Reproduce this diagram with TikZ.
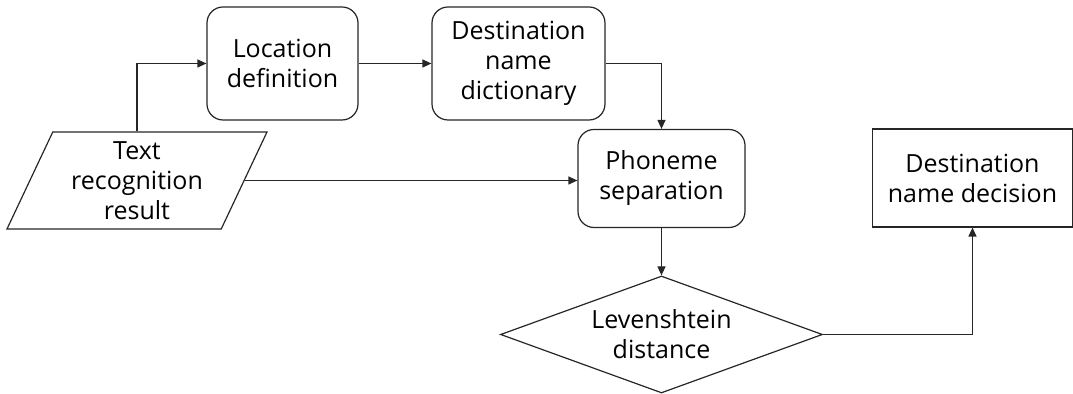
\documentclass[tikz,border=0pt]{standalone}
\usepackage{fontspec}
\setmainfont{Open Sans}
\usetikzlibrary{shapes.geometric,arrows.meta}
\tikzset{
	% common look of all blocks
	block/.style={draw=black!85,line width=0.6pt,align=center,
		font=\fontsize{12.5}{15}\selectfont,inner sep=2pt},
	roundbox/.style={block,rectangle,rounded corners=8pt},
	plainbox/.style={block,rectangle},
	iobox/.style={block,trapezium,trapezium left angle=62,
		trapezium right angle=118,trapezium stretches body},
	decide/.style={block,diamond,aspect=2.75},
	% arrows between the blocks
	arr/.style={draw=black!85,line width=0.6pt,
		-{Triangle[length=4.5pt,width=4pt]}},
}
\begin{document}
\begin{tikzpicture}[x=0.5pt,y=-0.5pt]
		\useasboundingbox (0,0) rectangle (1073,394);
		\node[roundbox,minimum width=75.5pt,minimum height=56.5pt] (loc) at (282.5,63.5) {Location\\definition};
		\node[roundbox,minimum width=86.5pt,minimum height=56.5pt] (dict) at (518.5,63.5) {Destination\\name\\dictionary};
		\node[roundbox,minimum width=83.5pt,minimum height=49pt] (phon) at (661.5,178.5) {Phoneme\\separation};
		\node[iobox,minimum width=130pt,minimum height=48.5pt] (txt) at (137,180.5) {Text\\recognition\\result};
		\node[decide,minimum width=161pt,minimum height=58.5pt] (lev) at (661.5,334.5) {Levenshtein\\distance};
		\node[plainbox,minimum width=100pt,minimum height=49pt] (dec) at (972.5,178) {Destination\\name decision};
		\draw[arr] (txt.north) |- (loc.west);
		\draw[arr] (loc) -- (dict);
		\draw[arr] (dict.east) -| (phon.north);
		\draw[arr] (txt.east) -- (txt.east -| phon.west);
		\draw[arr] (phon) -- (lev);
		\draw[arr] (lev.east) -| (dec.south);
		\end{tikzpicture}
\end{document}
